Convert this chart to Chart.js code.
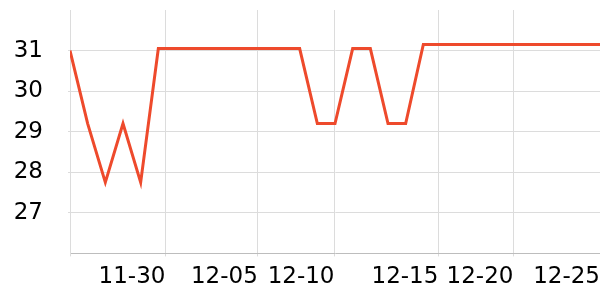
<!DOCTYPE html>
<html>
<head>
<meta charset="utf-8">
<script src="https://cdn.jsdelivr.net/npm/chart.js@4"></script>
<style>
  html, body { margin: 0; padding: 0; background: #fff; }
  #wrap { width: 600px; height: 300px; }
</style>
</head>
<body>
<div id="wrap"><canvas id="myChart"></canvas></div>
<script>
// one reading per step
const values = [
  31.0, 29.2, 27.75, 29.2, 27.75, 31.05, 31.05, 31.05, 31.05, 31.05,
  31.05, 31.05, 31.05, 31.05, 29.2, 29.2, 31.05, 31.05, 29.2, 29.2,
  31.15, 31.15, 31.15, 31.15, 31.15, 31.15, 31.15, 31.15, 31.15, 31.15,
  31.15
]
// where the date ticks fall along the steps
const xTickAt = [0, 5.4, 10.63, 14.97, 20.85, 25.1, 30]
const xTickLabels = ['', '11-30', '12-05', '12-10', '12-15', '12-20', '12-25']
const yTicks = [27, 28, 29, 30, 31]

const points = values.map((v, i) => ({ x: i, y: v }))

const config = {
  type: 'line',
  data: {
    datasets: [
      {
        data: points,
        borderColor: '#ee4a2c',
        borderWidth: 3,
        pointRadius: 0,
        tension: 0,
        fill: false
      }
    ]
  },
  options: {
    maintainAspectRatio: false,
    animation: false,
    layout: { padding: { top: 10, left: 13, right: 0, bottom: 2 } },
    plugins: {
      legend: { display: false },
      tooltip: { enabled: false }
    },
    scales: {
      x: {
        type: 'linear',
        min: 0,
        max: values.length - 1,
        afterBuildTicks: scale => {
          scale.ticks = xTickAt.map(v => ({ value: v }))
        },
        afterFit: scale => {
          scale.paddingLeft = 0
          scale.paddingRight = 0
        },
        ticks: {
          align: 'end',
          padding: 7,
          maxRotation: 0,
          autoSkip: false,
          callback: (v, i) => xTickLabels[i]
        },
        grid: { color: '#dcdcdc', tickLength: 3 },
        border: { color: '#bdbdbd' }
      },
      y: {
        min: 26,
        max: 32,
        afterBuildTicks: scale => {
          scale.ticks = yTicks.map(v => ({ value: v }))
        },
        afterFit: scale => {
          scale.width = 57
          scale.paddingTop = 0
          scale.paddingBottom = 0
        },
        ticks: { padding: 25 },
        grid: { color: '#dcdcdc', tickLength: 2 },
        border: { color: '#dcdcdc' }
      }
    }
  }
}

Chart.defaults.color = '#000000'
Chart.defaults.font.family = 'DejaVu Sans'
Chart.defaults.font.size = 23
var myChart = new Chart(document.getElementById('myChart'), config)
</script>
</body>
</html>
